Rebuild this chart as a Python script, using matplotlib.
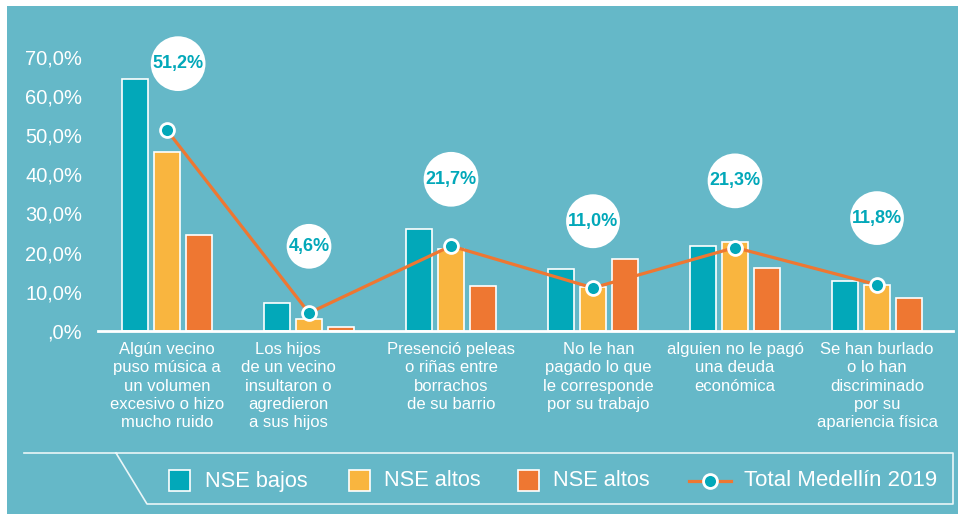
import matplotlib.pyplot as plt
import numpy as np
from matplotlib.patches import Rectangle
from matplotlib.lines import Line2D

plt.rcParams["font.family"] = ["Liberation Sans", "DejaVu Sans"]

# data
categories = [
    "Algún vecino\npuso música a\nun volumen\nexcesivo o hizo\nmucho ruido",
    "Los hijos\nde un vecino\ninsultaron o\nagredieron\na sus hijos",
    "Presenció peleas\no riñas entre\nborrachos\nde su barrio",
    "No le han\npagado lo que\nle corresponde\npor su trabajo",
    "alguien no le pagó\nuna deuda\neconómica",
    "Se han burlado\no lo han\ndiscriminado\npor su\napariencia física",
]
nse_bajos = [64.3, 7.1, 26.0, 15.8, 21.7, 12.8]
nse_altos_a = [45.7, 3.1, 20.8, 11.3, 22.7, 11.7]
nse_altos_b = [24.5, 1.0, 11.5, 18.4, 16.1, 8.4]
total_medellin = [51.2, 4.6, 21.7, 11.0, 21.3, 11.8]
series_names = ["NSE bajos", "NSE altos", "NSE altos"]
line_name = "Total Medellín 2019"
y_ticks = [0, 10, 20, 30, 40, 50, 60, 70]
y_tick_labels = [",0%", "10,0%", "20,0%", "30,0%", "40,0%", "50,0%", "60,0%", "70,0%"]

BG = "#65B8C8"
TEAL = "#02A8B9"
YELLOW = "#F9B53F"
ORANGE = "#EE7732"
WHITE = "#FFFFFF"

W, H = 958, 514


def fx(px):
    return px / W


def fy(py):
    return 1 - py / H


fig = plt.figure(figsize=(W / 100, H / 100), dpi=100, facecolor="white")
fig.add_artist(Rectangle((fx(7), 0), 1 - fx(7), fy(6), transform=fig.transFigure,
                         facecolor=BG, edgecolor="none", zorder=0))

ax = fig.add_axes([fx(98), fy(331), fx(953) - fx(98), (331 - 48.8) / H])
ax.set_facecolor("none")
ax.set_xlim(-0.486, 5.535)
ax.set_ylim(0, 72)

x = np.arange(len(categories))
bw = 0.183
step = 0.225
colors = [TEAL, YELLOW, ORANGE]
for k, (vals, c) in enumerate(zip([nse_bajos, nse_altos_a, nse_altos_b], colors)):
    ax.bar(x + (k - 1) * step, vals, width=bw, color=c, edgecolor=WHITE,
           linewidth=1.2, zorder=2)

ax.plot(x, total_medellin, color=ORANGE, linewidth=2.3, zorder=3)
ax.plot(x, total_medellin, linestyle="none", marker="o", markersize=10,
        markerfacecolor=TEAL, markeredgecolor=WHITE, markeredgewidth=2, zorder=4)

bubble_nudge = [8, 0, 0, 0, 0, 0]
for i, (v, dx) in enumerate(zip(total_medellin, bubble_nudge)):
    ax.annotate(f"{v:.1f}%".replace(".", ","), xy=(i, v), xytext=(dx, 48),
                textcoords="offset points", ha="center", va="center",
                fontsize=13, fontweight="bold", color=TEAL, zorder=5,
                bbox=dict(boxstyle="circle,pad=0.1", facecolor=WHITE, edgecolor="none"))

# category labels under each group
label_nudge = [0, -15, 0, 4, 0, 0]
for i, (lab, dx) in enumerate(zip(categories, label_nudge)):
    ax.annotate(lab, xy=(i, 0), xytext=(dx, -8), textcoords="offset points",
                ha="center", va="top", fontsize=12, color=WHITE,
                linespacing=1.27, annotation_clip=False)

ax.set_xticks([])
ax.set_yticks(y_ticks)
ax.set_yticklabels(y_tick_labels, color=WHITE, fontsize=14.5)
ax.tick_params(axis="y", length=0, pad=11.5)
for s in ["top", "right", "left"]:
    ax.spines[s].set_visible(False)
ax.spines["bottom"].set_color(WHITE)
ax.spines["bottom"].set_linewidth(2)

# legend frame
frame_x = [fx(24), fx(953), fx(953), fx(147), fx(116)]
frame_y = [fy(453), fy(453), fy(504), fy(504), fy(453)]
fig.add_artist(Line2D(frame_x, frame_y, transform=fig.transFigure,
                      color="#EAF6F8", linewidth=1.2))

leg_y = 481
for name, c, x0, tx in zip(series_names, colors, [169, 349, 518], [205, 384, 553]):
    fig.add_artist(Rectangle((fx(x0), fy(491)), fx(21), 21 / H, transform=fig.transFigure,
                             facecolor=c, edgecolor=WHITE, linewidth=1.2))
    fig.text(fx(tx), fy(leg_y), name, color=WHITE, fontsize=15.7, va="center", ha="left")

fig.add_artist(Line2D([fx(689), fx(731)], [fy(leg_y), fy(leg_y)], transform=fig.transFigure,
                      color=ORANGE, linewidth=2.3))
fig.add_artist(Line2D([fx(710)], [fy(leg_y)], transform=fig.transFigure, marker="o",
                      markersize=10, markerfacecolor=TEAL, markeredgecolor=WHITE,
                      markeredgewidth=2))
fig.text(fx(744), fy(leg_y), line_name, color=WHITE, fontsize=16, va="center", ha="left")

fig.savefig("out.png", dpi=100, facecolor=fig.get_facecolor())
